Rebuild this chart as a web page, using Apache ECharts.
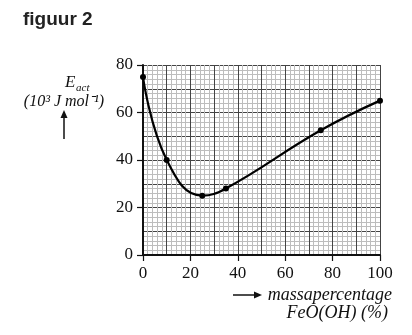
<!DOCTYPE html>
<html>
<head>
<meta charset="utf-8">
<script src="https://cdn.jsdelivr.net/npm/echarts@6/dist/echarts.min.js"></script>
<style>
  html, body { margin: 0; padding: 0; background: #fff; }
  #chart { width: 412px; height: 335px; }
</style>
</head>
<body>
<div id="chart"></div>
<script>
// Activation energy vs. mass percentage FeO(OH)
const massPercent = [0, 10, 25, 35, 75, 100];
const activationEnergy = [75, 40, 25, 28, 52.5, 65];
const xTicks = [0, 20, 40, 60, 80, 100];
const yTicks = [0, 20, 40, 60, 80];

const serif = "'Liberation Serif', 'Times New Roman', serif";
const chart = echarts.init(document.getElementById('chart'));

const points = massPercent.map((x, i) => [x, activationEnergy[i]]);

// Labelled axis (ticks every 20) and a grid axis (lines every 10, minor every 2)
function labelAxis(min, max, ticks, margin) {
  return {
    type: 'value', min: min, max: max, interval: ticks[1] - ticks[0],
    axisLine: { show: true, onZero: false, lineStyle: { color: '#111', width: 2 } },
    axisTick: { show: true, length: 6, lineStyle: { color: '#111', width: 1.2 } },
    axisLabel: { color: '#111', fontFamily: serif, fontSize: 17, margin: margin },
    splitLine: { show: false }
  };
}
function gridAxis(min, max) {
  return {
    type: 'value', min: min, max: max, interval: 10,
    axisLine: { show: false }, axisTick: { show: false }, axisLabel: { show: false },
    splitLine: { show: true, lineStyle: { color: '#444', width: 1 } },
    minorTick: { show: false, splitNumber: 5 },
    minorSplitLine: { show: true, lineStyle: { color: '#bdbdbd', width: 1 } }
  };
}

chart.setOption({
  animation: false,
  grid: { left: 143, right: 32, top: 65, bottom: 80, containLabel: false },
  xAxis: [
    Object.assign(gridAxis(0, 100), { position: 'bottom' }),
    Object.assign(labelAxis(0, 100, xTicks, 10), { position: 'bottom' })
  ],
  yAxis: [
    Object.assign(gridAxis(0, 80), { position: 'left' }),
    Object.assign(labelAxis(0, 80, yTicks, 10), { position: 'left' })
  ],
  series: [{
    type: 'line',
    xAxisIndex: 1, yAxisIndex: 1,
    data: points,
    smooth: 0.45,
    symbol: 'circle', symbolSize: 6,
    lineStyle: { color: '#000', width: 2.2 },
    itemStyle: { color: '#000' },
    z: 5
  }],
  graphic: [
    { type: 'text', left: 23, top: 10,
      style: { text: 'figuur 2', font: "bold 19px 'Liberation Sans', Arial, sans-serif", fill: '#222' } },
    // y-axis quantity
    { type: 'text', x: 65, y: 83,
      style: { text: 'E', font: 'italic 17px ' + serif, fill: '#111', textAlign: 'left', textVerticalAlign: 'middle' } },
    { type: 'text', x: 76, y: 88,
      style: { text: 'act', font: 'italic 11px ' + serif, fill: '#111', textAlign: 'left', textVerticalAlign: 'middle' } },
    { type: 'text', x: 64, y: 102,
      style: { text: '(10³ J mol⁻¹)', font: 'italic 16px ' + serif, fill: '#111', textAlign: 'center', textVerticalAlign: 'middle' } },
    { type: 'line', shape: { x1: 64, y1: 139, x2: 64, y2: 116 }, style: { stroke: '#111', lineWidth: 1.5 } },
    { type: 'polygon', shape: { points: [[64, 110], [60.5, 118], [67.5, 118]] }, style: { fill: '#111' } },
    // x-axis quantity
    { type: 'line', shape: { x1: 233, y1: 295, x2: 256, y2: 295 }, style: { stroke: '#111', lineWidth: 1.5 } },
    { type: 'polygon', shape: { points: [[262, 295], [254, 291.5], [254, 298.5]] }, style: { fill: '#111' } },
    { type: 'text', x: 392, y: 295,
      style: { text: 'massapercentage', font: 'italic 18px ' + serif, fill: '#111', textAlign: 'right', textVerticalAlign: 'middle' } },
    { type: 'text', x: 388, y: 313,
      style: { text: 'FeO(OH) (%)', font: 'italic 18px ' + serif, fill: '#111', textAlign: 'right', textVerticalAlign: 'middle' } }
  ]
});
</script>
</body>
</html>
